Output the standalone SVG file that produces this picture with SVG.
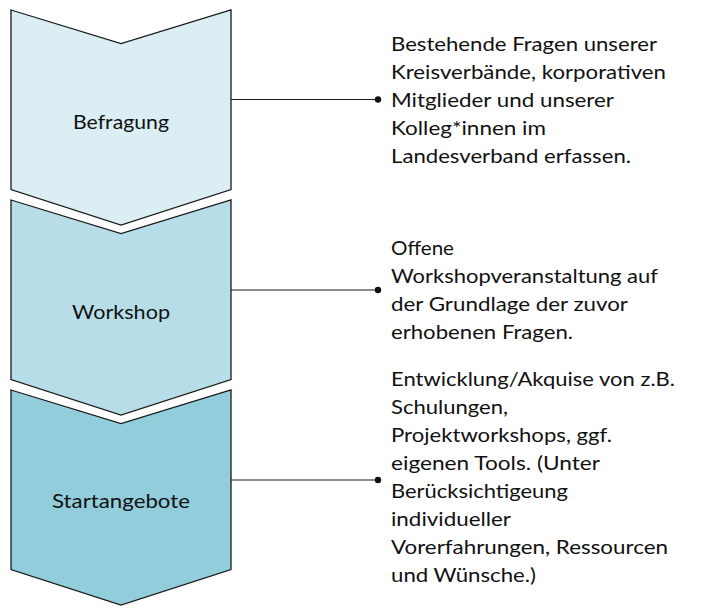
<svg xmlns="http://www.w3.org/2000/svg" width="703" height="616" viewBox="0 0 703 616">
  <style>
    .chev { stroke: #1a1a1a; stroke-width: 1.3; stroke-linejoin: miter; }
    .lbl { font-family: Lato, "Open Sans", "Liberation Sans", sans-serif; font-size: 20px; fill: #111; text-anchor: middle; }
    .txt { font-family: Lato, "Open Sans", "Liberation Sans", sans-serif; font-size: 20px; fill: #111; }
    .conn { stroke: #1a1a1a; stroke-width: 1.2; fill: none; }
    .dot { fill: #111; }
  </style>
  <rect width="703" height="616" fill="#ffffff"/>

  <g id="node-befragung">
    <polygon class="chev" fill="#DAEEF3" points="11,10 121,43.5 231,10 231,189.5 121,225 11,189.5"/>
    <text class="lbl" x="121" y="129" textLength="96" lengthAdjust="spacingAndGlyphs">Befragung</text>
  </g>

  <g id="node-workshop">
    <polygon class="chev" fill="#B7DEE8" points="11,200 121,233.5 231,200 231,379.5 121,415 11,379.5"/>
    <text class="lbl" x="121" y="319" textLength="98" lengthAdjust="spacingAndGlyphs">Workshop</text>
  </g>

  <g id="node-startangebote">
    <polygon class="chev" fill="#92CDDC" points="11,390 121,423.5 231,390 231,569.5 121,605 11,569.5"/>
    <text class="lbl" x="121" y="508" textLength="138" lengthAdjust="spacingAndGlyphs">Startangebote</text>
  </g>

  <g id="connectors">
    <line class="conn" x1="231" y1="99.5" x2="378" y2="99.5"/>
    <circle class="dot" cx="378" cy="99.5" r="3.2"/>
    <line class="conn" x1="231" y1="290" x2="378" y2="290"/>
    <circle class="dot" cx="378" cy="290" r="3.2"/>
    <line class="conn" x1="231" y1="480" x2="378" y2="480"/>
    <circle class="dot" cx="378" cy="480" r="3.2"/>
  </g>

  <g id="text-befragung">
    <text class="txt" x="391" y="51" textLength="266" lengthAdjust="spacingAndGlyphs">Bestehende Fragen unserer</text>
    <text class="txt" x="391" y="79" textLength="275" lengthAdjust="spacingAndGlyphs">Kreisverbände, korporativen</text>
    <text class="txt" x="391" y="107" textLength="223" lengthAdjust="spacingAndGlyphs">Mitglieder und unserer</text>
    <text class="txt" x="391" y="135" textLength="155" lengthAdjust="spacingAndGlyphs">Kolleg*innen im</text>
    <text class="txt" x="391" y="163" textLength="240" lengthAdjust="spacingAndGlyphs">Landesverband erfassen.</text>
  </g>

  <g id="text-workshop">
    <text class="txt" x="391" y="255" textLength="63" lengthAdjust="spacingAndGlyphs">Offene</text>
    <text class="txt" x="391" y="283" textLength="267" lengthAdjust="spacingAndGlyphs">Workshopveranstaltung auf</text>
    <text class="txt" x="391" y="311" textLength="237" lengthAdjust="spacingAndGlyphs">der Grundlage der zuvor</text>
    <text class="txt" x="391" y="339" textLength="182" lengthAdjust="spacingAndGlyphs">erhobenen Fragen.</text>
  </g>

  <g id="text-startangebote">
    <text class="txt" x="391" y="386" textLength="284" lengthAdjust="spacingAndGlyphs">Entwicklung/Akquise von z.B.</text>
    <text class="txt" x="391" y="414" textLength="117" lengthAdjust="spacingAndGlyphs">Schulungen,</text>
    <text class="txt" x="391" y="442" textLength="221" lengthAdjust="spacingAndGlyphs">Projektworkshops, ggf.</text>
    <text class="txt" x="391" y="470" textLength="209" lengthAdjust="spacingAndGlyphs">eigenen Tools. (Unter</text>
    <text class="txt" x="391" y="498" textLength="177" lengthAdjust="spacingAndGlyphs">Berücksichtigeung</text>
    <text class="txt" x="391" y="526" textLength="120" lengthAdjust="spacingAndGlyphs">individueller</text>
    <text class="txt" x="391" y="554" textLength="277" lengthAdjust="spacingAndGlyphs">Vorerfahrungen, Ressourcen</text>
    <text class="txt" x="391" y="582" textLength="145" lengthAdjust="spacingAndGlyphs">und Wünsche.)</text>
  </g>
</svg>
